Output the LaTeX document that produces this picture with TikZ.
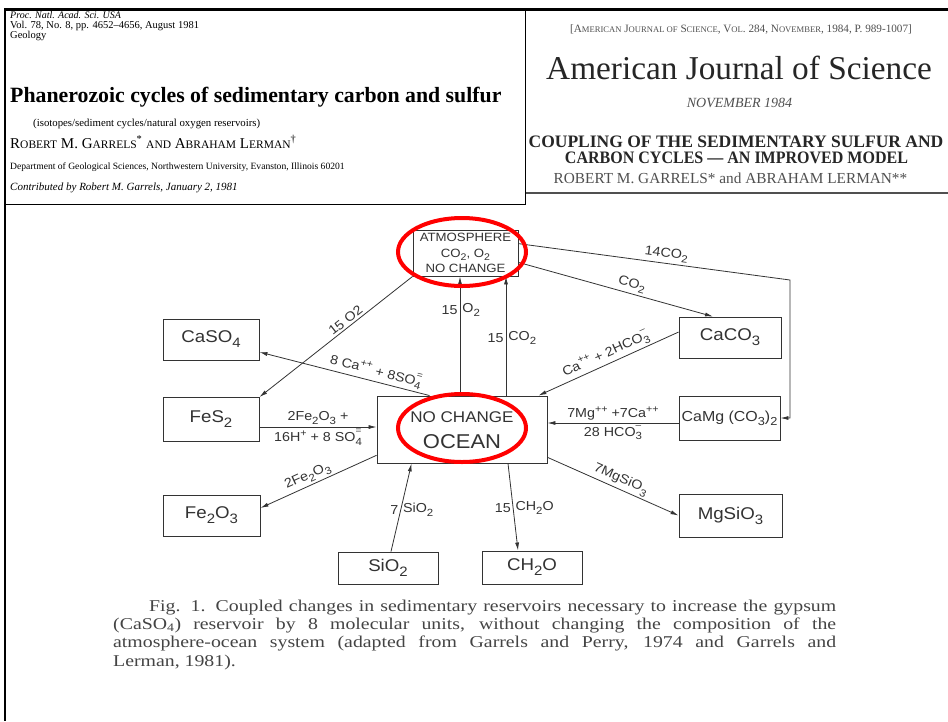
\documentclass[tikz,border=0pt]{standalone}
\usepackage{fontspec}
\setmainfont{Liberation Serif}
\newfontfamily\dsans[FakeStretch=1.1]{Liberation Sans}
\newfontfamily\capfont[FakeStretch=1.2]{Liberation Serif}
\usetikzlibrary{calc,arrows.meta,shapes.geometric}
\definecolor{ink}{HTML}{333333}
\definecolor{capgray}{HTML}{444444}
\definecolor{hgray}{HTML}{505050}
\newcommand\sbs[1]{\raisebox{-0.3em}{\scalebox{0.8}{#1}}}
\newcommand\sps[1]{\raisebox{0.45em}{\scalebox{0.75}{#1}}}
\newcommand\sbsp[2]{\makebox[0pt][l]{\raisebox{0.62em}{\scalebox{0.7}{#2}}}\raisebox{-0.3em}{\scalebox{0.8}{#1}}}
\newcommand\fs[1]{\fontsize{#1}{#1}\selectfont}
\begin{document}
\begin{tikzpicture}[x=1pt,y=-1pt,
  box/.style={draw=ink, line width=0.9pt, inner sep=0pt, text=ink, font=\dsans\fs{17}},
  arr/.style={draw=ink, line width=0.8pt, -{Latex[length=8pt,width=4pt]}},
  elab/.style={text=ink, font=\dsans\fs{13}, inner sep=2pt},
  ring/.style={draw=red, line width=4pt, ellipse, inner sep=0pt},
  hl/.style={anchor=base west, inner sep=0pt},
  hc/.style={anchor=base, inner sep=0pt},
]
\fill[white] (0,0) rectangle (948,721);
\useasboundingbox (0,0) rectangle (948,721);

% frame
\draw[line width=3pt] (4,9) -- (948,9);
\draw[line width=2.5pt] (5,9) -- (5,721);
\draw[line width=1pt] (4,204) -- (525.5,204) -- (525.5,9);
\draw[line width=1.8pt, hgray] (525.5,193) -- (948,193);

% left header
\node[hl, font=\itshape\fs{10}] (p1) at (10,18) {Proc. Natl. Acad. Sci. USA};
\node[hl, font=\fs{10.5}] (p2) at (10,28.5) {Vol. 78, No. 8, pp. 4652–4656, August 1981};
\node[hl, font=\fs{10.5}] (p3) at (10,38.5) {Geology};
\node[hl, font=\bfseries\fs{21.8}] (ti) at (10,102) {Phanerozoic cycles of sedimentary carbon and sulfur};
\node[hl, font=\fs{10.8}] (kw) at (33,126) {(isotopes/sediment cycles/natural oxygen reservoirs)};
\node[hl, font=\fs{15}] (au) at (10,148) {R{\fs{11.5}OBERT} M. G{\fs{11.5}ARRELS}\textsuperscript{*} {\fs{11.5}AND} A{\fs{11.5}BRAHAM} L{\fs{11.5}ERMAN}\textsuperscript{†}};
\node[hl, font=\fs{9.6}] (dp) at (10,169) {Department of Geological Sciences, Northwestern University, Evanston, Illinois 60201};
\node[hl, font=\itshape\fs{11}] (cb) at (10,190) {Contributed by Robert M. Garrels, January 2, 1981};

% right header
\node[hc, font=\fs{11.2}, text=hgray] (r1) at (741,32) {[A{\fs{8.6}MERICAN} J{\fs{8.6}OURNAL OF} S{\fs{8.6}CIENCE}, V{\fs{8.6}OL}. 284, N{\fs{8.6}OVEMBER}, 1984, P. 989-1007]};
\node[hc, font=\fs{33.3}, text=black!85] (r2) at (739,79) {American Journal of Science};
\node[hc, font=\itshape\fs{14}, text=hgray] (r3) at (739.5,107) {NOVEMBER 1984};
\node[hc, font=\bfseries\fs{17.5}, text=black!85] (r4) at (736,147) {COUPLING OF THE SEDIMENTARY SULFUR AND};
\node[hc, font=\bfseries\fs{17.5}, text=black!85] (r5) at (736.5,163) {\resizebox{343pt}{\height}{CARBON CYCLES — AN IMPROVED MODEL}};
\node[hc, font=\fs{15.3}, text=hgray] (r6) at (730.5,183) {ROBERT M. GARRELS* and ABRAHAM LERMAN**};

% boxes
\node[box, minimum width=105pt, minimum height=46pt, align=center, font=\dsans\fontsize{12}{15.5}\selectfont] (atm) at (465.5,253) {ATMOSPHERE\\CO\sbs{2}, O\sbs{2}\\NO CHANGE};
\node[box, minimum width=96pt, minimum height=41pt] (caso4) at (211,339.5) {CaSO\sbs{4}};
\node[box, minimum width=96pt, minimum height=44pt] (fes2) at (211,419.5) {FeS\sbs{2}};
\node[box, minimum width=97pt, minimum height=41pt] (fe2o3) at (211.5,515.5) {Fe\sbs{2}O\sbs{3}};
\node[box, minimum width=170pt, minimum height=67pt] (ocean) at (462,429.5) {};
\node[text=ink, font=\dsans\fs{15.5}, inner sep=0pt] (ocnc) at (462,417) {NO CHANGE};
\node[text=ink, font=\dsans\fs{20}, inner sep=0pt] (ocnm) at (462,442) {OCEAN};
\node[box, minimum width=100pt, minimum height=32pt] (sio2) at (388,568) {SiO\sbs{2}};
\node[box, minimum width=100pt, minimum height=33pt] (ch2o) at (532,567.5) {CH\sbs{2}O};
\node[box, minimum width=103pt, minimum height=43pt] (mgsio3) at (730.5,515.5) {MgSiO\sbs{3}};
\node[box, minimum width=102pt, minimum height=41pt] (caco3) at (730,337.5) {CaCO\sbs{3}};
\node[box, minimum width=101pt, minimum height=44pt, font=\dsans\fs{14.5}] (camg) at (729.5,418) {CaMg (CO\sbs{3})\sbs{2}};

% connectors
\draw[arr] (atm.south west) -- (fes2.north east) node[elab, pos=0.41, sloped, above] {15 O2};
\draw[arr] ($(ocean.north west)!0.31!(ocean.north east)$) -- ($(caso4.north east)!0.8!(caso4.south east)$) node[elab, pos=0.33, sloped, above] {8 Ca\sps{++} + 8SO\sbsp{4}{=}};
\draw[arr] ($(ocean.north)+(-2,0)$) -- ($(atm.south)+(-5.5,0)$) node[elab, pos=0.72, left] {15} node[elab, pos=0.72, right] {O\sbs{2}};
\draw[arr] ($(ocean.north)+(44,0)$) -- ($(atm.south)+(40.5,0)$) node[elab, pos=0.48, left] {15} node[elab, pos=0.48, right] {CO\sbs{2}};
\draw[arr] ($(atm.north east)!0.7!(atm.south east)$) -- ($(caco3.north)+(-17,0)$) node[elab, pos=0.57, sloped, above] {CO\sbs{2}};
\coordinate (k1) at (790,280);
\draw[arr] ($(atm.north east)!0.3!(atm.south east)$) -- node[elab, pos=0.54, sloped, above] {14CO\sbs{2}} (k1) |- (camg.east);
\draw[arr] ($(caco3.north west)!0.37!(caco3.south west)$) -- ($(ocean.north east)+(-9,0)$) node[elab, pos=0.49, sloped, above] {Ca\sps{++} + 2HCO\sbsp{3}{–}};
\coordinate (cm) at ($(camg.west)+(0,5)$);
\draw[arr] (cm) -- (cm -| ocean.east) node[elab, midway, above] {7Mg\sps{++} +7Ca\sps{++}} node[elab, midway, below] {28 HCO\sbsp{3}{–}};
\coordinate (fs) at ($(fes2.east)+(0,7.5)$);
\draw[arr] (fs) -- (fs -| ocean.west) node[elab, midway, above] {2Fe\sbs{2}O\sbs{3} +} node[elab, midway, below] {16H\sps{+} + 8 SO\sbsp{4}{=}};
\draw[arr] ($(ocean.north west)!0.88!(ocean.south west)$) -- ($(fe2o3.north east)!0.32!(fe2o3.south east)$) node[elab, pos=0.56, sloped, above] {2Fe\sbs{2}O\sbs{3}};
\draw[arr] ($(sio2.north)+(3,0)$) -- ($(ocean.south west)+(35,0)$) node[elab, pos=0.47, left] {7} node[elab, pos=0.47, right] {SiO\sbs{2}};
\draw[arr] ($(ocean.south)+(46,0)$) -- ($(ch2o.north)+(-14,0)$) node[elab, pos=0.51, left] {15} node[elab, pos=0.51, right] {CH\sbs{2}O};
\draw[arr] ($(ocean.north east)!0.91!(ocean.south east)$) -- (mgsio3.west) node[elab, pos=0.53, sloped, above] {7MgSiO\sbs{3}};

% red rings
\node[ring, minimum width=128pt, minimum height=68pt] (ring1) at (462,252) {};
\node[ring, minimum width=128pt, minimum height=68pt] (ring2) at (462,428) {};

% caption
\node[hl, font=\capfont\fs{16.5}, text=capgray] (c1) at (149,611) {\makebox[687pt][s]{Fig. 1. Coupled changes in sedimentary reservoirs necessary to increase the gypsum}};
\node[hl, font=\capfont\fs{16.5}, text=capgray] (c2) at (113,629) {\makebox[723pt][s]{(CaSO\textsubscript{4}) reservoir by 8 molecular units, without changing the composition of the}};
\node[hl, font=\capfont\fs{16.5}, text=capgray] (c3) at (113,647.5) {\makebox[723pt][s]{atmosphere-ocean system (adapted from Garrels and Perry, 1974 and Garrels and}};
\node[hl, font=\capfont\fs{16.5}, text=capgray] (c4) at (113,666) {Lerman, 1981).};
\end{tikzpicture}
\end{document}
